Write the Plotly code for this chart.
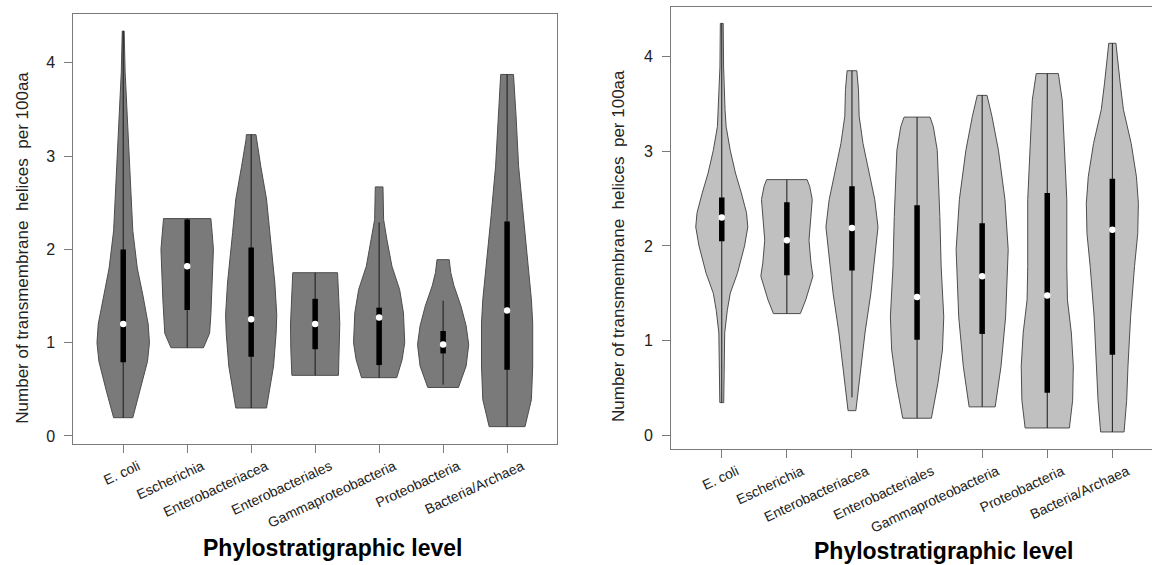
import plotly.graph_objects as go

# Phylostratigraphic levels (x categories)
levels = ["E. coli", "Escherichia", "Enterobacteriacea", "Enterobacteriales",
          "Gammaproteobacteria", "Proteobacteria", "Bacteria/Archaea"]

# ---- Left panel: density outline (y level, half-width in category units) ----
left_y = [
    [0.196, 0.5, 0.8, 1.0, 1.2, 1.5, 1.8, 2.2, 2.6, 3.0, 3.5, 3.9, 4.34],
    [0.946, 1.1, 1.3, 1.46, 2.0, 2.18, 2.33],
    [0.30, 0.75, 1.1, 1.3, 1.64, 2.18, 2.54, 2.89, 3.18, 3.23],
    [0.65, 0.93, 1.2, 1.46, 1.75],
    [0.625, 0.82, 1.0, 1.32, 1.57, 1.82, 2.11, 2.32, 2.67],
    [0.52, 0.75, 0.98, 1.18, 1.39, 1.61, 1.75, 1.89],
    [0.10, 0.39, 0.75, 1.21, 1.46, 1.82, 2.36, 2.89, 3.43, 3.875],
]
left_hw = [
    [0.15, 0.27, 0.38, 0.41, 0.39, 0.31, 0.22, 0.15, 0.12, 0.09, 0.06, 0.03, 0.015],
    [0.254, 0.35, 0.37, 0.38, 0.41, 0.39, 0.37],
    [0.24, 0.35, 0.39, 0.40, 0.37, 0.29, 0.24, 0.15, 0.08, 0.075],
    [0.364, 0.38, 0.385, 0.37, 0.35],
    [0.275, 0.36, 0.40, 0.38, 0.32, 0.20, 0.12, 0.07, 0.06],
    [0.24, 0.36, 0.40, 0.36, 0.28, 0.17, 0.12, 0.095],
    [0.28, 0.38, 0.40, 0.40, 0.38, 0.33, 0.25, 0.18, 0.14, 0.10],
]
left_q1 = [0.79, 1.35, 0.85, 0.93, 0.76, 0.885, 0.71]
left_med = [1.2, 1.82, 1.25, 1.2, 1.27, 0.98, 1.345]
left_q3 = [2.0, 2.32, 2.02, 1.47, 1.375, 1.125, 2.30]
left_wlo = [0.196, 0.946, 0.30, 0.65, 0.625, 0.55, 0.10]
left_whi = [4.34, 2.33, 3.23, 1.75, 2.29, 1.45, 3.875]

# ---- Right panel ----
right_y = [
    [0.345, 1.08, 1.32, 1.5, 1.71, 2.0, 2.2, 2.35, 2.56, 2.77, 3.01, 3.26, 3.44, 3.89, 4.35],
    [1.285, 1.43, 1.68, 1.82, 2.06, 2.27, 2.49, 2.63, 2.70],
    [0.26, 0.55, 1.08, 1.5, 1.92, 2.2, 2.49, 2.77, 3.08, 3.37, 3.65, 3.85],
    [0.18, 0.55, 0.9, 1.25, 1.78, 2.31, 3.01, 3.26, 3.36],
    [0.30, 0.73, 1.25, 1.96, 2.49, 3.01, 3.37, 3.59],
    [0.077, 0.37, 0.73, 1.08, 1.43, 1.78, 2.49, 3.01, 3.54, 3.82],
    [0.035, 0.37, 0.73, 1.25, 1.78, 2.13, 2.45, 2.73, 3.08, 3.44, 3.72, 3.96, 4.14],
]
right_hw = [
    [0.03, 0.045, 0.085, 0.13, 0.24, 0.35, 0.40, 0.38, 0.30, 0.21, 0.13, 0.067, 0.05, 0.028, 0.022],
    [0.207, 0.29, 0.40, 0.37, 0.34, 0.36, 0.39, 0.35, 0.31],
    [0.06, 0.11, 0.2, 0.29, 0.36, 0.40, 0.35, 0.26, 0.17, 0.11, 0.1, 0.075],
    [0.22, 0.32, 0.39, 0.41, 0.37, 0.35, 0.31, 0.25, 0.2],
    [0.2, 0.29, 0.36, 0.40, 0.35, 0.25, 0.15, 0.075],
    [0.34, 0.39, 0.40, 0.37, 0.31, 0.30, 0.30, 0.27, 0.23, 0.17],
    [0.18, 0.22, 0.24, 0.28, 0.34, 0.39, 0.40, 0.37, 0.29, 0.17, 0.12, 0.08, 0.055],
]
right_q1 = [2.05, 1.69, 1.74, 1.01, 1.07, 0.45, 0.85]
right_med = [2.30, 2.06, 2.19, 1.46, 1.68, 1.475, 2.17]
right_q3 = [2.51, 2.46, 2.63, 2.43, 2.24, 2.56, 2.71]
right_wlo = [0.345, 1.285, 0.4, 0.18, 0.30, 0.077, 0.035]
right_whi = [4.35, 2.70, 3.85, 3.36, 3.59, 3.82, 4.14]

y_ticks = [0, 1, 2, 3, 4]

FONT = "Arial, Liberation Sans, sans-serif"
OUTLINE = "#4d4d4d"
FRAME = "#7a7a7a"

fig = go.Figure()


def add_panel(ys, hws, q1, med, q3, wlo, whi, fill, xa, ya):
    # violin bodies
    for i, (yy, hw) in enumerate(zip(ys, hws)):
        c = i + 1
        px = [c + w for w in hw] + [c - w for w in reversed(hw)] + [c + hw[0]]
        py = list(yy) + list(reversed(yy)) + [yy[0]]
        fig.add_trace(go.Scatter(x=px, y=py, mode="lines", fill="toself",
                                 fillcolor=fill, line=dict(color=OUTLINE, width=1),
                                 xaxis=xa, yaxis=ya, hoverinfo="skip", showlegend=False))
    for i in range(len(ys)):
        c = i + 1
        # whisker
        fig.add_trace(go.Scatter(x=[c, c], y=[wlo[i], whi[i]], mode="lines",
                                 line=dict(color="#1a1a1a", width=1),
                                 xaxis=xa, yaxis=ya, hoverinfo="skip", showlegend=False))
        # interquartile box
        fig.add_trace(go.Scatter(x=[c, c], y=[q1[i], q3[i]], mode="lines",
                                 line=dict(color="black", width=5.5),
                                 xaxis=xa, yaxis=ya, hoverinfo="skip", showlegend=False))
    # medians
    fig.add_trace(go.Scatter(x=list(range(1, len(med) + 1)), y=med, mode="markers",
                             marker=dict(color="white", size=6.5, line=dict(width=0)),
                             xaxis=xa, yaxis=ya, hoverinfo="skip", showlegend=False))


add_panel(left_y, left_hw, left_q1, left_med, left_q3, left_wlo, left_whi,
          "#7a7a7a", "x", "y")
add_panel(right_y, right_hw, right_q1, right_med, right_q3, right_wlo, right_whi,
          "#c0c0c0", "x2", "y2")

W, H = 1152, 565

xcommon = dict(tickmode="array", tickvals=list(range(1, 8)), ticktext=levels,
               tickangle=-25, ticks="outside", ticklen=8, tickcolor=FRAME,
               ticklabelshift=15,
               showline=True, linecolor=FRAME, linewidth=1, showgrid=False,
               zeroline=False, tickfont=dict(family=FONT, size=14, color="#222"))
ycommon = dict(tickmode="array", tickvals=y_ticks, ticks="outside", ticklen=8,
               tickcolor=FRAME, showline=True, linecolor=FRAME, linewidth=1,
               showgrid=False, zeroline=False, ticklabelstandoff=6,
               tickfont=dict(family=FONT, size=16, color="#222"))

fig.update_layout(
    width=W, height=H,
    margin=dict(l=0, r=0, t=0, b=0),
    paper_bgcolor="white", plot_bgcolor="white",
    xaxis=dict(domain=[73.3 / W, 557 / W], range=[0.22, 7.78], mirror=True,
               anchor="y", **xcommon),
    yaxis=dict(domain=[1 - 444 / H, 1 - 14 / H], range=[-0.086, 4.523], mirror=True,
               anchor="x", **ycommon),
    xaxis2=dict(domain=[671 / W, 1.0], range=[0.22, 7.609], mirror=True,
                anchor="y2", **xcommon),
    yaxis2=dict(domain=[1 - 449 / H, 1 - 7.3 / H], range=[-0.145, 4.52], mirror=False,
                anchor="x2", **ycommon),
    showlegend=False,
)

ytitle = "Number of transmembrane  helices  per 100aa"
xtitle = "<b>Phylostratigraphic level</b>"
for xp, yp in [(21.7, 248), (619, 246)]:
    fig.add_annotation(text=ytitle, x=xp / W, y=1 - yp / H, xref="paper", yref="paper",
                       textangle=-90, showarrow=False, xanchor="center", yanchor="middle",
                       font=dict(family=FONT, size=17, color="#222"))
for xp, yp in [(332, 548), (943, 551)]:
    fig.add_annotation(text=xtitle, x=xp / W, y=1 - yp / H, xref="paper", yref="paper",
                       showarrow=False, xanchor="center", yanchor="middle",
                       font=dict(family=FONT, size=23, color="black"))

fig.write_html("out.html")
